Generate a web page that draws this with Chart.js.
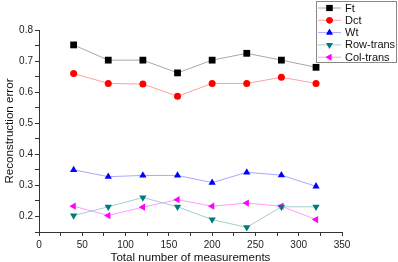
<!DOCTYPE html>
<html><head><meta charset="utf-8">
<script src="https://cdn.jsdelivr.net/npm/chart.js@4/dist/chart.umd.min.js"></script>
<style>html,body{margin:0;padding:0;background:#fff}#w{width:398px;height:262px;position:relative}</style>
</head><body><div id="w"><canvas id="c" width="398" height="262"></canvas></div>
<script>
const measurements = [40, 80, 120, 160, 200, 240, 280, 320];
const ft = [0.752, 0.703, 0.703, 0.662, 0.703, 0.725, 0.703, 0.680];
const dct = [0.660, 0.628, 0.626, 0.587, 0.628, 0.628, 0.648, 0.628];
const wt = [0.350, 0.328, 0.332, 0.332, 0.309, 0.342, 0.333, 0.297];
const rowTrans = [0.203, 0.231, 0.261, 0.231, 0.190, 0.165, 0.231, 0.231];
const colTrans = [0.233, 0.203, 0.230, 0.254, 0.233, 0.243, 0.233, 0.190];
const seriesNames = ['Ft', 'Dct', 'Wt', 'Row-trans', 'Col-trans'];
const xTicks = [0, 50, 100, 150, 200, 250, 300, 350];
const yTicks = [0.2, 0.3, 0.4, 0.5, 0.6, 0.7, 0.8];

const styles = [
  {line:'#a8a8a8', pt:'#000000', ps:'rect', r:4.8, rot:0},
  {line:'#ffa0a0', pt:'#ff0000', ps:'circle', r:3.5, rot:0},
  {line:'#a8a8ff', pt:'#0000ff', ps:'triangle', r:4.2, rot:0},
  {line:'#a0d0d0', pt:'#007b7b', ps:'triangle', r:4.2, rot:180},
  {line:'#ff9cff', pt:'#ff00ff', ps:'triangle', r:4.2, rot:-90}
];
const allData = [ft, dct, wt, rowTrans, colTrans];
const datasets = allData.map((d, i) => ({
  label: seriesNames[i],
  data: measurements.map((m, j) => ({x: m, y: d[j]})),
  borderColor: styles[i].line, borderWidth: 1,
  pointStyle: styles[i].ps, pointRadius: styles[i].r, pointRotation: styles[i].rot,
  pointBackgroundColor: styles[i].pt, pointBorderColor: styles[i].pt, pointBorderWidth: 0,
  fill: false, tension: 0
}));

const legendPlugin = {
  id: 'boxLegend',
  afterDraw(chart) {
    const ctx = chart.ctx;
    ctx.save();
    const x0 = 316.5, y0 = 1.5, w = 80, h = 61;
    ctx.fillStyle = '#fff';
    ctx.fillRect(x0, y0, w, h);
    ctx.strokeStyle = '#888';
    ctx.lineWidth = 1;
    ctx.strokeRect(x0, y0, w, h);
    ctx.font = '11px "Liberation Sans", Arial, sans-serif';
    ctx.textBaseline = 'middle';
    chart.data.datasets.forEach((ds, i) => {
      const y = 8 + i * 12.3;
      ctx.strokeStyle = styles[i].line;
      ctx.beginPath(); ctx.moveTo(318, y); ctx.lineTo(341, y); ctx.stroke();
      ctx.fillStyle = styles[i].pt;
      Chart.helpers.drawPoint(ctx, {pointStyle: styles[i].ps, radius: styles[i].r * 0.9, rotation: styles[i].rot, borderWidth: 0}, 329.5, y);
      ctx.fill();
      ctx.fillStyle = '#111';
      ctx.fillText(ds.label, 345, y + 0.5);
    });
    ctx.restore();
  }
};

new Chart(document.getElementById('c'), {
  type: 'line',
  data: { datasets },
  options: {
    responsive: false, animation: false,
    layout: { padding: { top: 30, right: 56, left: 0, bottom: 0 } },
    plugins: { legend: { display: false }, tooltip: { enabled: false } },
    scales: {
      x: {
        type: 'linear', min: 0, max: 350,
        afterFit(s) { s.height = 30; },
        afterBuildTicks(s) { const t = []; for (let v = 0; v <= 350; v += 25) t.push({value: v}); s.ticks = t; },
        border: { color: '#333', width: 1 },
        grid: { drawOnChartArea: false, tickLength: 4, color: '#333' },
        ticks: { color: '#222', font: { size: 10, family: '"Liberation Sans", Arial' }, padding: 3, maxRotation: 0, autoSkip: false,
          callback: v => xTicks.includes(v) ? String(v) : '' },
        title: { display: true, text: 'Total number of measurements', color: '#111', font: { size: 11.6, family: '"Liberation Sans", Arial' }, padding: { top: 0, bottom: -3 } }
      },
      y: {
        min: 0.15, max: 0.8,
        afterFit(s) { s.width = 39; },
        afterBuildTicks(s) { const t = []; for (let k = 3; k <= 16; k++) t.push({value: k * 0.05}); s.ticks = t; },
        border: { color: '#333', width: 1 },
        grid: { drawOnChartArea: false, tickLength: 4, color: '#333' },
        ticks: { color: '#222', font: { size: 10, family: '"Liberation Sans", Arial' }, padding: 2, autoSkip: false,
          callback: v => { const r = Math.round(v * 100) / 100; return yTicks.some(t => Math.abs(t - r) < 1e-6) ? r.toFixed(1) : ''; } },
        title: { display: true, text: 'Reconstruction error', color: '#111', font: { size: 11.6, family: '"Liberation Sans", Arial' }, padding: { top: 3, bottom: 0 } }
      }
    }
  },
  plugins: [legendPlugin]
});
</script></body></html>
